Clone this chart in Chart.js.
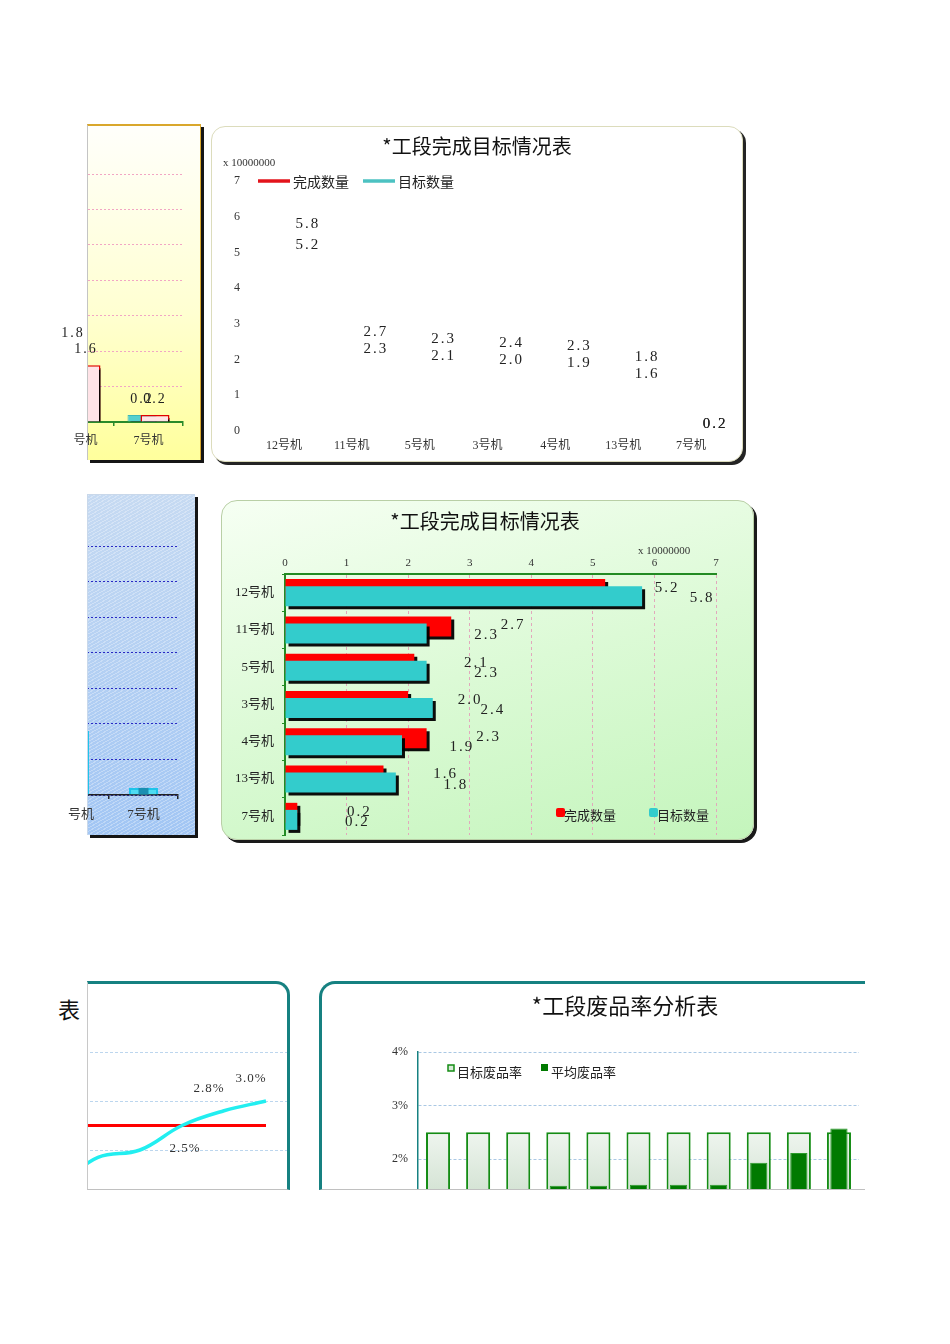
<!DOCTYPE html>
<html>
<head>
<meta charset="utf-8">
<script src="https://cdn.jsdelivr.net/npm/chart.js@4.4.1/dist/chart.umd.min.js"></script>
<style>
  body { margin:0; background:#fff; width:950px; height:1344px; position:relative; overflow:hidden;
         font-family:"Noto Sans CJK SC", sans-serif; }
  .box, .bg { position:absolute; overflow:hidden; box-sizing:border-box; }
  .box canvas { position:absolute; top:0; }
  #bgA { left:87px; top:124px; width:114px; height:336px;
         border-top:2px solid #d9a72c; border-right:1px solid #d9a72c; border-left:1px solid #c4c4c4;
         background:linear-gradient(#fffffb 0%, #ffffd2 55%, #ffff9c 100%);
         box-shadow:3px 3px 0 #151515; overflow:visible; }
  #boxA { left:60px; top:126px; width:140px; height:334px; }
  #boxB { left:211px; top:126px; width:532px; height:336px; background:#fff;
          border:1px solid #dcdcbc; border-radius:14px; box-shadow:3px 3px 0 #242424; }
  #bgC { left:87px; top:494px; width:108px; height:341px;
         border-top:1px solid #c9d8ea; border-left:1px solid #c9d8ea;
         background:repeating-linear-gradient(150deg, rgba(255,255,255,0.3) 0 1px, rgba(255,255,255,0) 1px 3px),
                    linear-gradient(#c6daf2, #a2c6f4);
         box-shadow:3px 3px 0 #151515; overflow:visible; }
  #boxC { left:60px; top:495px; width:134px; height:340px; }
  #boxD { left:221px; top:500px; width:533px; height:340px;
          border:1px solid #b9cfa6; border-radius:16px; box-shadow:3px 3px 0 #1a1a1a;
          background:linear-gradient(165deg, #f6fff3 0%, #dcfad6 50%, #c4f5bc 100%); }
  #titleE { left:58px; top:990px; width:29px; height:40px; }
  #titleE div { position:absolute; right:7px; top:2px; white-space:nowrap; font-size:22px; color:#111; }
  #boxE { left:87px; top:981px; width:203px; height:209px; background:#fff;
          border-top:3px solid #168181; border-right:3px solid #168181; border-top-right-radius:14px;
          border-left:1px solid #c8c8c8; border-bottom:1px solid #c0c0c0; }
  #boxF { left:319px; top:981px; width:546px; height:209px; background:#fff;
          border-top:3px solid #168181; border-left:3px solid #168181; border-top-left-radius:16px;
          border-bottom:1px solid #c0c0c0; }
</style>
</head>
<body>
<div class="bg" id="bgA"></div>
<div class="box" id="boxA"><canvas id="cA" width="533" height="334" style="left:-392px"></canvas></div>
<div class="box" id="boxB"><canvas id="cB" width="530" height="334" style="left:0"></canvas></div>
<div class="bg" id="bgC"></div>
<div class="box" id="boxC"><canvas id="cC" width="532" height="340" style="left:-397px"></canvas></div>
<div class="box" id="boxD"><canvas id="cD" width="531" height="338" style="left:0"></canvas></div>
<div class="box" id="titleE"><div>*工段废品率分析表</div></div>
<div class="box" id="boxE"><canvas id="cE" width="462" height="230" style="left:-263px"></canvas></div>
<div class="box" id="boxF"><canvas id="cF" width="543" height="300" style="left:0"></canvas></div>

<script>
/* =========================
   DATA
========================= */
const machines  = ["12号机","11号机","5号机","3号机","4号机","13号机","7号机"];
const doneQty   = [5.2, 2.7, 2.1, 2.0, 2.3, 1.6, 0.2];   // 完成数量 (x 10000000)
const targetQty = [5.8, 2.3, 2.3, 2.4, 1.9, 1.8, 0.2];   // 目标数量 (x 10000000)
const qtyTicks  = [0, 1, 2, 3, 4, 5, 6, 7];

const rateCats    = ["1号机","2号机","3号机","4号机","5号机","6号机","7号机","8号机","9号机","10号机","11号机"];
const targetRate  = [2.5, 2.5, 2.5, 2.5, 2.5, 2.5, 2.5, 2.5, 2.5, 2.5, 2.5];          // 目标废品率 %
const avgRate     = [1.1, 1.2, 1.3, 1.5, 1.5, 1.52, 1.52, 1.52, 1.93, 2.11, 2.57];     // 平均废品率 %
const rateTicks   = [0, 1, 2, 3, 4];

const trendTarget = [2.5, 2.5, 2.5, 2.5, 2.5, 2.5, 2.5, 2.5, 2.5, 2.5, 2.5];
const trendAvg    = [1.1, 1.2, 1.2, 1.3, 1.3, 1.3, 1.85, 2.0, 2.5, 2.8, 3.0];

const NUM = '"Liberation Serif", "Noto Sans CJK SC", serif';
const CJK = '"Noto Sans CJK SC", sans-serif';
const RED = "#ff0000", CYAN = "#33cccc";

/* =========================
   HELPERS
========================= */
function txt(ctx, s, x, y, font, color, align, spacing) {
  ctx.save();
  ctx.font = font;
  ctx.fillStyle = color || "#222";
  ctx.textAlign = align || "center";
  ctx.textBaseline = "middle";
  if (spacing) ctx.letterSpacing = spacing;
  ctx.fillText(s, x, y);
  ctx.restore();
}

// draw datasets 0,1,... so later ones sit on top (chart.js default is the reverse)
function drawAscending(chart, shadow) {
  const ctx = chart.ctx;
  chart.data.datasets.forEach((d, i) => {
    ctx.save();
    if (shadow) {
      ctx.shadowColor = "rgba(0,0,0,0.95)";
      ctx.shadowOffsetX = 3;
      ctx.shadowOffsetY = 3;
      ctx.shadowBlur = 0;
    }
    chart.getDatasetMeta(i).controller.draw();
    ctx.restore();
  });
}

// the cut-off panels: bars and grid clipped at the panel edge, axis text a bit further left
function edgeClip(edgeBars, edgeText, shadow, labelsFn) {
  return {
    id: "edgeClip",
    beforeDraw(chart) {
      const c = chart.ctx;
      c.save(); c.beginPath(); c.rect(edgeBars, 0, chart.width, chart.height); c.clip();
    },
    beforeDatasetsDraw(chart) {
      const c = chart.ctx;
      drawAscending(chart, shadow);
      c.restore();
      c.save(); c.beginPath(); c.rect(edgeText, 0, chart.width, chart.height); c.clip();
      return false;
    },
    afterDraw(chart) {
      chart.ctx.restore();
      if (labelsFn) labelsFn(chart);
    }
  };
}

const fixedTicks = (arr) => (scale) => { scale.ticks = arr.map(v => ({ value: v })); };

/* =========================
   A : partial column chart (yellow)
========================= */
new Chart(document.getElementById("cA"), {
  type: "bar",
  data: {
    labels: machines,
    datasets: [
      { label: "目标数量", data: targetQty, backgroundColor: "#55cfcf", borderColor: "#3bb8b8", borderWidth: 1 },
      { label: "完成数量", data: doneQty, backgroundColor: "#ffe3e7", borderColor: "#e00000", borderWidth: 1.5 }
    ]
  },
  options: {
    responsive: false, animation: false,
    categoryPercentage: 0.377, barPercentage: 2.23,
    layout: { padding: { top: 48, right: 18, left: 0, bottom: 0 } },
    plugins: { legend: { display: false }, tooltip: { enabled: false } },
    scales: {
      x: {
        grid: { offset: true, drawOnChartArea: false, color: "#2a8a2a", tickLength: 4, lineWidth: 1.5 },
        border: { color: "#2a8a2a", width: 2 },
        ticks: { font: { family: NUM, size: 12 }, color: "#333", padding: 8, z: 1 },
        afterFit(s) { s.height = 38; }
      },
      y: {
        min: 0, max: 7,
        afterBuildTicks: fixedTicks(qtyTicks),
        ticks: { display: false },
        grid: { color: "#f2a6c4", drawTicks: false },
        border: { display: false, dash: [2, 2] },
        afterFit(s) { s.width = 32; }
      }
    }
  },
  plugins: [edgeClip(420, 406, true, (chart) => {
    const m0 = chart.getDatasetMeta(0).data, m1 = chart.getDatasetMeta(1).data;
    m0.forEach((b0, i) => {
      const b1 = m1[i];
      let y0 = b0.y - 16, y1 = b1.y - 16;
      if (y1 - y0 > 0 && y1 - y0 < 16) y0 = y1 - 16;
      if (y0 - y1 > 0 && y0 - y1 < 16) y1 = y0 - 16;
      txt(chart.ctx, targetQty[i].toFixed(1), b0.x, y0, "14px " + NUM, "#222", "center", "2px");
      txt(chart.ctx, doneQty[i].toFixed(1), b1.x, y1, "14px " + NUM, "#222", "center", "2px");
    });
  })]
});

/* =========================
   B : 完成目标情况 (line)
========================= */
new Chart(document.getElementById("cB"), {
  type: "line",
  data: {
    labels: machines,
    datasets: [
      { label: "完成数量", data: doneQty, borderColor: "#e3141c", backgroundColor: "#e3141c", showLine: false, pointRadius: 0 },
      { label: "目标数量", data: targetQty, borderColor: "#4cc2c2", backgroundColor: "#4cc2c2", showLine: false, pointRadius: 0 }
    ]
  },
  options: {
    responsive: false, animation: false,
    layout: { padding: { top: 54, right: 17, left: 0, bottom: 0 } },
    plugins: { legend: { display: false }, tooltip: { enabled: false } },
    scales: {
      x: {
        offset: true,
        grid: { display: false, drawTicks: false }, border: { display: false },
        ticks: { font: { family: NUM, size: 12 }, color: "#333", padding: 8 },
        afterFit(s) { s.height = 30; }
      },
      y: {
        min: 0, max: 7,
        afterBuildTicks: fixedTicks(qtyTicks),
        grid: { display: false, drawTicks: false }, border: { display: false },
        ticks: { font: { family: NUM, size: 12 }, color: "#333", padding: 10 },
        afterFit(s) { s.width = 38; }
      }
    }
  },
  plugins: [{
    id: "decoB",
    afterDraw(chart) {
      const ctx = chart.ctx, a = chart.chartArea;
      txt(ctx, "*工段完成目标情况表", 265, 19, "20px " + CJK, "#111");
      txt(ctx, "x 10000000", 11, 36, "11px " + NUM, "#333", "left");
      // legend
      const ds = chart.data.datasets;
      [[46, ds[0]], [151, ds[1]]].forEach(([x, d]) => {
        ctx.save();
        ctx.strokeStyle = d.borderColor; ctx.lineWidth = 3.5;
        ctx.beginPath(); ctx.moveTo(x, a.top); ctx.lineTo(x + 32, a.top); ctx.stroke();
        ctx.restore();
        txt(ctx, d.label, x + 35, a.top + 1, "14px " + CJK, "#222", "left");
      });
      // data labels, pushed apart when they collide
      const m0 = chart.getDatasetMeta(0).data, m1 = chart.getDatasetMeta(1).data;
      m0.forEach((p, i) => {
        let yD = p.y, yT = m1[i].y;
        if (doneQty[i] !== targetQty[i] && Math.abs(yD - yT) < 17) {
          if (yD < yT) yD = yT - 17; else yT = yD - 17;
        }
        txt(ctx, doneQty[i].toFixed(1), p.x + 24, yD, "15px " + NUM, "#222", "center", "2px");
        txt(ctx, targetQty[i].toFixed(1), m1[i].x + 24, yT, "15px " + NUM, "#222", "center", "2px");
      });
    }
  }]
});

/* =========================
   C : partial column chart (blue)
========================= */
new Chart(document.getElementById("cC"), {
  type: "bar",
  data: {
    labels: machines,
    datasets: [
      { label: "目标数量", data: targetQty, backgroundColor: "#4edcf2", borderColor: "#1ec4ea", borderWidth: 2,
        grouped: false, barPercentage: 0.42, categoryPercentage: 1 },
      { label: "完成数量", data: doneQty, backgroundColor: "#1a8fb2", borderWidth: 0,
        grouped: false, barPercentage: 0.145, categoryPercentage: 1 }
    ]
  },
  options: {
    responsive: false, animation: false,
    layout: { padding: { top: 51, right: 17, left: 0, bottom: 0 } },
    plugins: { legend: { display: false }, tooltip: { enabled: false } },
    scales: {
      x: {
        grid: { offset: true, drawOnChartArea: false, color: "#222", tickLength: 4, lineWidth: 1.5 },
        border: { color: "#222", width: 1.5 },
        ticks: { font: { family: NUM, size: 13 }, color: "#333", padding: 8, z: 1 },
        afterFit(s) { s.height = 40; }
      },
      y: {
        min: 0, max: 7,
        afterBuildTicks: fixedTicks(qtyTicks),
        ticks: { display: false },
        grid: { color: "#2a2ac4", drawTicks: false },
        border: { display: false, dash: [2, 2] },
        afterFit(s) { s.width = 32; }
      }
    }
  },
  plugins: [edgeClip(425, 405, false, null)]
});

/* =========================
   D : 完成目标情况 (horizontal bars)
========================= */
new Chart(document.getElementById("cD"), {
  type: "bar",
  data: {
    labels: machines,
    datasets: [
      { label: "完成数量", data: doneQty, backgroundColor: RED },
      { label: "目标数量", data: targetQty, backgroundColor: CYAN }
    ]
  },
  options: {
    indexAxis: "y",
    responsive: false, animation: false,
    categoryPercentage: 0.378, barPercentage: 2.84,
    layout: { padding: { top: 48, right: 37, left: 0, bottom: 4 } },
    plugins: { legend: { display: false }, tooltip: { enabled: false } },
    scales: {
      x: {
        position: "top", min: 0, max: 7,
        afterBuildTicks: fixedTicks(qtyTicks),
        grid: { color: "#e2a8bc", drawTicks: false },
        border: { color: "#238b23", width: 2, dash: [3, 3] },
        ticks: { font: { family: NUM, size: 11 }, color: "#333", padding: 4 },
        afterFit(s) { s.height = 25; }
      },
      y: {
        grid: { offset: true, drawOnChartArea: false, color: "#238b23", tickLength: 3 },
        border: { color: "#238b23", width: 2 },
        ticks: { font: { family: NUM, size: 13 }, color: "#222", padding: 8 },
        afterFit(s) { s.width = 63; s.paddingTop = 0; s.paddingBottom = 0; }
      }
    }
  },
  plugins: [{
    id: "decoD",
    beforeDatasetsDraw(chart) {
      drawAscending(chart, true);
      return false;
    },
    afterDraw(chart) {
      const ctx = chart.ctx;
      txt(ctx, "*工段完成目标情况表", 263, 20, "20px " + CJK, "#111");
      txt(ctx, "x 10000000", 416, 50, "11px " + NUM, "#333", "left");
      const ds = chart.data.datasets;
      [[334, ds[0]], [427, ds[1]]].forEach(([x, d]) => {
        ctx.save();
        ctx.fillStyle = d.backgroundColor;
        ctx.beginPath(); ctx.roundRect(x, 307, 9, 9, 2); ctx.fill();
        ctx.restore();
        txt(ctx, d.label, x + 8, 314, "13px " + CJK, "#222", "left");
      });
      const m0 = chart.getDatasetMeta(0).data, m1 = chart.getDatasetMeta(1).data;
      m0.forEach((b, i) => {
        txt(ctx, doneQty[i].toFixed(1), b.x + 62, b.y - 1, "15px " + NUM, "#222", "center", "2px");
        txt(ctx, targetQty[i].toFixed(1), m1[i].x + 60, m1[i].y + 2, "15px " + NUM, "#222", "center", "2px");
      });
    }
  }]
});

/* =========================
   E : partial trend line chart
========================= */
new Chart(document.getElementById("cE"), {
  type: "line",
  data: {
    labels: rateCats,
    datasets: [
      { label: "平均废品率", data: trendAvg, borderColor: "#22eef0", borderWidth: 3.5, pointRadius: 0, tension: 0.4 },
      { label: "目标废品率", data: trendTarget, borderColor: "#ff0000", borderWidth: 3, pointRadius: 0 }
    ]
  },
  options: {
    responsive: false, animation: false,
    layout: { padding: { top: 68, right: 0, left: 0, bottom: 15 } },
    plugins: { legend: { display: false }, tooltip: { enabled: false } },
    scales: {
      x: { offset: true, display: false },
      y: {
        min: 1, max: 4,
        afterBuildTicks: fixedTicks(rateTicks.filter(v => v >= 1)),
        ticks: { display: false },
        grid: { color: "#bcd6ee", drawTicks: false },
        border: { display: false, dash: [3, 2] },
        afterFit(s) { s.width = 0; }
      }
    }
  },
  plugins: [{
    id: "labelsE",
    afterDatasetsDraw(chart) {
      const ctx = chart.ctx;
      chart.getDatasetMeta(0).data.forEach((p, i) => {
        if (trendAvg[i] < trendTarget[i]) return;
        const above = trendAvg[i] > trendTarget[i];
        txt(ctx, trendAvg[i].toFixed(1) + "%", p.x + (above ? -15 : 3), p.y + (above ? -22 : 23),
            "13px " + NUM, "#333", "center", "1px");
      });
    }
  }]
});

/* =========================
   F : 废品率分析 (columns)
========================= */
new Chart(document.getElementById("cF"), {
  type: "bar",
  data: {
    labels: rateCats,
    datasets: [
      { label: "目标废品率", data: targetRate, borderColor: "#148c14", borderWidth: 2, order: 1,
        backgroundColor(c) {
          const a = c.chart.chartArea;
          if (!a) return "#e8f1e8";
          const g = c.chart.ctx.createLinearGradient(0, a.top + 70, 0, a.bottom);
          g.addColorStop(0, "#f3f8f3"); g.addColorStop(1, "#b4ceb4");
          return g;
        },
        grouped: false, barPercentage: 0.6, categoryPercentage: 1 },
      { label: "平均废品率", data: avgRate, backgroundColor: "#007a00", borderColor: "#2a9a2a", borderWidth: 1, order: 0,
        grouped: false, barPercentage: 0.43, categoryPercentage: 1 }
    ]
  },
  options: {
    responsive: false, animation: false,
    layout: { padding: { top: 68, right: 6, left: 0, bottom: 18 } },
    plugins: { legend: { display: false }, tooltip: { enabled: false } },
    scales: {
      x: { display: false },
      y: {
        min: 0, max: 4,
        afterBuildTicks: fixedTicks(rateTicks),
        grid: { color: "#aac8e4", drawTicks: false },
        border: { color: "#168181", width: 1.5, dash: [3, 2] },
        ticks: { font: { family: NUM, size: 12 }, color: "#333", padding: 10, callback: v => v + "%" },
        afterFit(s) { s.width = 96; }
      }
    }
  },
  plugins: [{
    id: "decoF",
    afterDraw(chart) {
      const ctx = chart.ctx;
      txt(ctx, "*工段废品率分析表", 303, 22, "22px " + CJK, "#111");
      const ds = chart.data.datasets;
      ctx.save();
      ctx.fillStyle = "#d8ead8"; ctx.strokeStyle = "#148c14"; ctx.lineWidth = 1.5;
      ctx.fillRect(126, 81, 6, 6); ctx.strokeRect(126, 81, 6, 6);
      ctx.fillStyle = ds[1].backgroundColor; ctx.fillRect(219, 80, 7, 7);
      ctx.restore();
      txt(ctx, ds[0].label, 135, 88, "13px " + CJK, "#222", "left");
      txt(ctx, ds[1].label, 229, 88, "13px " + CJK, "#222", "left");
    }
  }]
});
</script>
</body>
</html>
